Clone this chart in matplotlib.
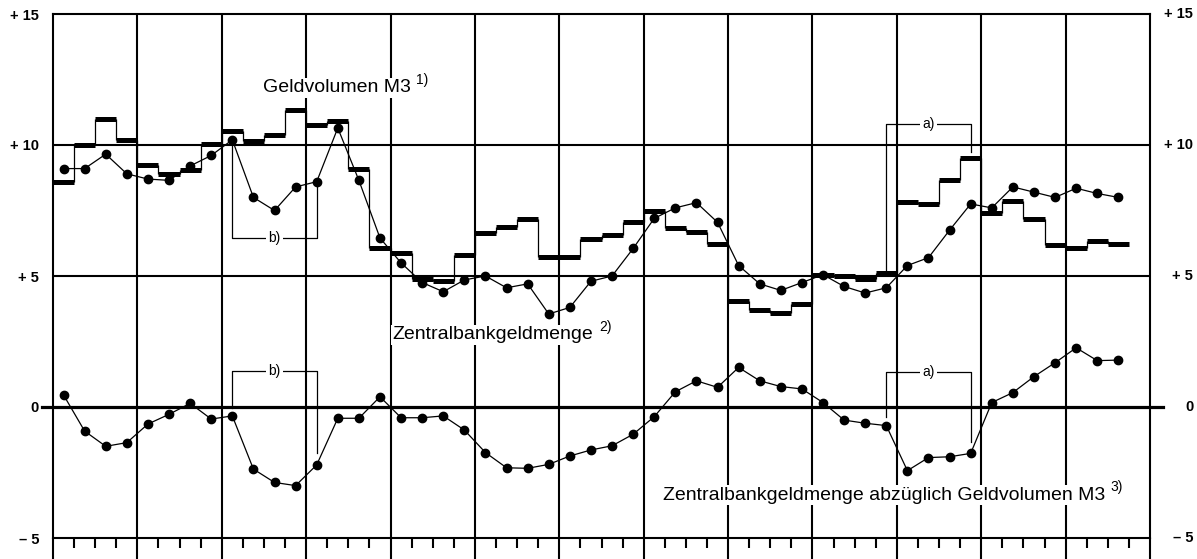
import matplotlib.pyplot as plt
import numpy as np

plt.rcParams['font.family'] = ['Liberation Sans', 'DejaVu Sans']

# Quartalswerte, Veraenderung in % (erstes Quartal = 0)
zbgm = [9.1, 9.1, 9.65, 8.9, 8.7, 8.65, 9.2, 9.6, 10.2, 8.0, 7.5, 8.4, 8.6, 10.65, 8.65, 6.45,
        5.5, 4.75, 4.4, 4.85, 5.0, 4.55, 4.7, 3.55, 3.8, 4.8, 5.0, 6.05, 7.2, 7.6, 7.8, 7.05,
        5.4, 4.7, 4.45, 4.75, 5.05, 4.6, 4.35, 4.55, 5.4, 5.7, 6.75, 7.75, 7.6, 8.4, 8.2, 8.0,
        8.35, 8.15, 8.0]
m3 = [8.6, 10.0, 11.0, 10.2, 9.25, 8.9, 9.05, 10.05, 10.55, 10.15, 10.4, 11.35, 10.75, 10.9, 9.1, 6.05,
      5.87, 4.9, 4.8, 5.8, 6.65, 6.88, 7.16, 5.74, 5.74, 6.4, 6.56, 7.07, 7.49, 6.82, 6.69, 6.22,
      4.03, 3.7, 3.6, 3.95, 5.04, 5.0, 4.89, 5.1, 7.84, 7.75, 8.66, 9.49, 7.39, 7.87, 7.18, 6.18,
      6.06, 6.35, 6.22]
diff = [0.46, -0.92, -1.5, -1.36, -0.65, -0.28, 0.14, -0.46, -0.34, -2.37, -2.88, -3.0, -2.21, -0.43, -0.43, 0.39,
        -0.41, -0.41, -0.34, -0.88, -1.74, -2.32, -2.34, -2.19, -1.87, -1.64, -1.48, -1.04, -0.37, 0.58, 1.0, 0.75,
        1.51, 1.0, 0.78, 0.69, 0.17, -0.5, -0.62, -0.71, -2.43, -1.93, -1.9, -1.77, 0.17, 0.55, 1.16, 1.69,
        2.26, 1.77, 1.79]
n_quartale = 52
ytick_werte = [-5, 0, 5, 10, 15]
ytick_texte = ['\u2013 5', '0', '+ 5', '+ 10', '+ 15']

fig = plt.figure(figsize=(11.97, 5.59), dpi=100)
ax = fig.add_axes([53 / 1197, 21 / 559, 1097 / 1197, 524 / 559])
ax.set_xlim(0, n_quartale)
ax.set_ylim(-5, 15)

# Gitter
for x in range(4, n_quartale, 4):
    ax.axvline(x, color='black', lw=1.5, zorder=1)
for y in [5, 10]:
    ax.axhline(y, color='black', lw=1.5, zorder=1)
ax.plot([-0.5, n_quartale + 0.6], [0, 0], color='black', lw=2.3, clip_on=False, zorder=1)
for s in ax.spines.values():
    s.set_linewidth(1.5)

# x-Achse: Jahre (lang) und Quartale (kurz)
ax.set_xticks(range(0, n_quartale + 1, 4))
ax.set_xticks(range(0, n_quartale + 1), minor=True)
ax.tick_params(axis='x', which='major', length=16, width=1.5, labelbottom=False)
ax.tick_params(axis='x', which='minor', length=7, width=1.5)

# y-Beschriftung links und rechts
ax.set_yticks(ytick_werte)
ax.set_yticklabels(ytick_texte, fontsize=10.5, fontweight='bold')
ax.tick_params(axis='y', length=0, pad=10)
for y, t in zip(ytick_werte, ytick_texte):
    ax.text(1.0395, y, t, transform=ax.get_yaxis_transform(), ha='right', va='center',
            fontsize=10.5, fontweight='bold')

q = np.arange(len(m3))
mitte = q + 0.5

# Geldvolumen M3 als Treppe
ax.hlines(m3, q, q + 1, color='black', lw=3.6, zorder=3)
ax.vlines(q[1:], m3[:-1], m3[1:], color='black', lw=0.9, zorder=3)

# Zentralbankgeldmenge und Differenz
ax.plot(mitte, zbgm, color='black', lw=0.9, marker='o', ms=6, zorder=4)
ax.plot(mitte, diff, color='black', lw=0.9, marker='o', ms=6, zorder=4)

# Klammern a) und b)
def klammer(x1, x2, oben, u1, u2, text):
    ax.plot([x1, x1, x2, x2], [u1, oben, oben, u2], color='black', lw=0.9, zorder=2)
    ax.text((x1 + x2) / 2, oben, text, ha='center', va='center', fontsize=10,
            bbox=dict(facecolor='white', edgecolor='none', pad=1.5), zorder=5)

klammer(8.5, 12.5, 6.45, 10.2, 8.55, 'b)')
klammer(8.5, 12.5, 1.39, -0.05, -1.76, 'b)')
klammer(39.5, 43.5, 10.8, 5.23, 9.73, 'a)')
klammer(39.5, 43.5, 1.35, -0.37, -1.32, 'a)')

# Beschriftungen
def label(x, y, text, fuss):
    t = ax.text(x, y, text, ha='left', va='center', fontsize=14,
                bbox=dict(facecolor='white', edgecolor='none', pad=1), zorder=5)
    ax.annotate(fuss, xy=(1, 0.55), xycoords=t, xytext=(4, 0), textcoords='offset points',
                ha='left', va='bottom', fontsize=10, zorder=5)

label(9.95, 12.18, 'Geldvolumen M3', '1)')
label(16.1, 2.75, 'Zentralbankgeldmenge', '2)')
label(28.9, -3.36, 'Zentralbankgeldmenge abz\u00fcglich Geldvolumen M3', '3)')

fig.savefig('out.png', dpi=100)
